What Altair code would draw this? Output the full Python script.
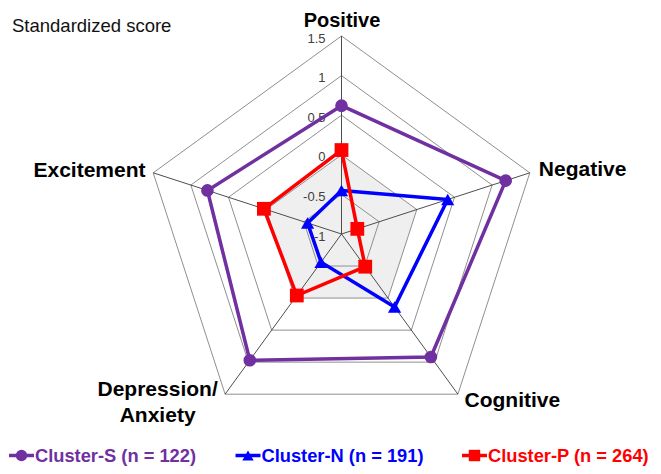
import altair as alt
import pandas as pd

# ---------------- data ----------------
axes_names = ["Positive", "Negative", "Cognitive", "Depression/Anxiety", "Excitement"]
axes_display = ["Positive", "Negative", "Cognitive", "Depression/\nAnxiety", "Excitement"]
series_names = ["Cluster-S (n = 122)", "Cluster-N (n = 191)", "Cluster-P (n = 264)"]
cluster_s = [0.62, 1.18, 0.92, 0.97, 0.78]
cluster_n = [-0.45, 0.41, 0.14, -0.56, -0.55]
cluster_p = [0.06, -0.79, -0.49, -0.04, 0.03]
grid_levels = [-0.5, 0, 0.5, 1, 1.5]
tick_values = [-1, -0.5, 0, 0.5, 1, 1.5]
tick_labels = ["-1", "-0.5", "0", "0.5", "1", "1.5"]
axis_min = -1.0
axis_max = 1.5
shaded_level = 0
y_title = "Standardized score"

# ---------------- styles ----------------
colors = ["#7030A0", "#0000FF", "#FF0000"]
shapes = ["circle", "triangle-up", "square"]
marker_sizes = [160, 190, 175]
FONT = "Liberation Sans"
N = len(axes_names)

# ---------------- tables ----------------
series_vals = [cluster_s, cluster_n, cluster_p]
series_df = pd.DataFrame(
    [
        {"series": s, "axis": a, "idx": i, "value": v}
        for s, vals in zip(series_names, series_vals)
        for i, (a, v) in enumerate(zip(axes_names, vals))
    ]
)
grid_df = pd.DataFrame(
    [{"level": lv, "idx": i, "value": lv} for lv in grid_levels for i in range(N)]
)
spoke_df = pd.DataFrame([{"idx": i, "value": axis_max} for i in range(N)])
tick_df = pd.DataFrame(
    [{"idx": 0, "value": v, "label": t} for v, t in zip(tick_values, tick_labels)]
)
label_df = pd.DataFrame(
    [
        {"idx": i, "value": axis_max, "axis": a, "text": d}
        for i, (a, d) in enumerate(zip(axes_names, axes_display))
    ]
)
legend_df = pd.DataFrame({"series": series_names})
title_df = pd.DataFrame({"text": [y_title]})

# ---------------- layout ----------------
W, H = 645, 458
CX, CY = 333.5, 226.0
PX = 79.2
xs = alt.Scale(domain=[-CX / PX, (W - CX) / PX], nice=False, zero=False)
ys = alt.Scale(domain=[-(H - CY) / PX, CY / PX], nice=False, zero=False)
X = alt.X("px:Q", scale=xs, axis=None)
Y = alt.Y("py:Q", scale=ys, axis=None)
color_scale = alt.Scale(domain=series_names, range=colors)
shape_scale = alt.Scale(domain=series_names, range=shapes)


def polar(ch):
    return ch.transform_calculate(
        ang=f"datum.idx * 2 * PI / {N}",
        r=f"datum.value - ({axis_min})",
    ).transform_calculate(
        px="datum.r * sin(datum.ang)",
        py="datum.r * cos(datum.ang)",
        zero="0",
    )


fill = polar(
    alt.Chart(grid_df)
    .transform_filter(f"datum.level == {shaded_level}")
    .mark_line(interpolate="linear-closed", fill="#efefef", strokeOpacity=0)
).encode(x=X, y=Y, order="idx:Q")

rings = polar(
    alt.Chart(grid_df).mark_line(
        interpolate="linear-closed", color="#8f8f8f", strokeWidth=1
    )
).encode(x=X, y=Y, detail="level:N", order="idx:Q")

spokes = polar(
    alt.Chart(spoke_df).mark_rule(color="#3a3a3a", strokeWidth=0.9)
).encode(
    x=alt.X("zero:Q", scale=xs, axis=None),
    y=alt.Y("zero:Q", scale=ys, axis=None),
    x2="px:Q",
    y2="py:Q",
)

ticks = polar(
    alt.Chart(tick_df).mark_text(
        align="right", baseline="middle", dx=-16, dy=2.5,
        font=FONT, fontSize=13, color="#404040"
    )
).encode(x=X, y=Y, text="label:N")

label_layout = {
    "Positive": dict(align="center", dx=0.5, dy=-9.5, size=20),
    "Negative": dict(align="left", dx=9, dy=3.2, size=21),
    "Cognitive": dict(align="left", dx=6.6, dy=13, size=21),
    "Depression/Anxiety": dict(align="center", dx=-67.5, dy=1.5, size=21),
    "Excitement": dict(align="right", dx=-7.7, dy=4.2, size=21),
}
label_layers = []
for a in axes_names:
    lay = label_layout[a]
    label_layers.append(
        polar(
            alt.Chart(label_df)
            .transform_filter(alt.datum.axis == a)
            .mark_text(
                align=lay["align"], baseline="alphabetic", dx=lay["dx"], dy=lay["dy"],
                font=FONT, fontSize=lay["size"], fontWeight="bold", color="#000000",
                lineBreak="\n", lineHeight=26,
            )
        ).encode(x=X, y=Y, text="text:N")
    )

lines = polar(
    alt.Chart(series_df).mark_line(interpolate="linear-closed", strokeWidth=3.5)
).encode(
    x=X, y=Y,
    color=alt.Color("series:N", scale=color_scale, legend=None),
    order="idx:Q",
)

points = polar(
    alt.Chart(series_df).mark_point(filled=True, opacity=1)
).encode(
    x=X, y=Y,
    color=alt.Color("series:N", scale=color_scale, legend=None),
    shape=alt.Shape("series:N", scale=shape_scale, legend=None),
    size=alt.Size("series:N", scale=alt.Scale(domain=series_names, range=marker_sizes), legend=None),
)

title_text = alt.Chart(title_df).mark_text(
    align="left", baseline="alphabetic", font=FONT, fontSize=18.5, color="#111111"
).encode(x=alt.value(4), y=alt.value(24), text="text:N")

radar = alt.layer(fill, rings, spokes, ticks, *label_layers, lines, points, title_text)

LX = alt.X("series:N", scale=alt.Scale(domain=series_names, range=[13.5, 466.5], padding=0), axis=None)
LEG_Y = 447.5
leg_stub = alt.Chart(legend_df).mark_point(
    shape="M-1,0L1,0", size=625, strokeWidth=3.5, filled=False, opacity=1
).encode(
    x=LX, y=alt.value(LEG_Y),
    color=alt.Color("series:N", scale=color_scale, legend=None),
)
leg_marker = alt.Chart(legend_df).mark_point(filled=True, opacity=1, size=130).encode(
    x=LX, y=alt.value(LEG_Y),
    color=alt.Color("series:N", scale=color_scale, legend=None),
    shape=alt.Shape("series:N", scale=shape_scale, legend=None),
)
leg_text = alt.Chart(legend_df).mark_text(
    align="left", baseline="alphabetic", dx=13.5, font=FONT, fontSize=18.3, fontWeight="bold"
).encode(
    x=LX, y=alt.value(LEG_Y + 6),
    color=alt.Color("series:N", scale=color_scale, legend=None),
    text="series:N",
)
legend = alt.layer(leg_stub, leg_marker, leg_text)

chart = (
    alt.layer(radar, legend)
    .resolve_scale(x="independent", y="independent")
    .properties(width=W, height=H, padding=0, autosize=alt.AutoSizeParams(type="none"))
    .configure_view(stroke=None)
)

chart.save("out.html", embed_options={"renderer": "svg", "actions": False})
